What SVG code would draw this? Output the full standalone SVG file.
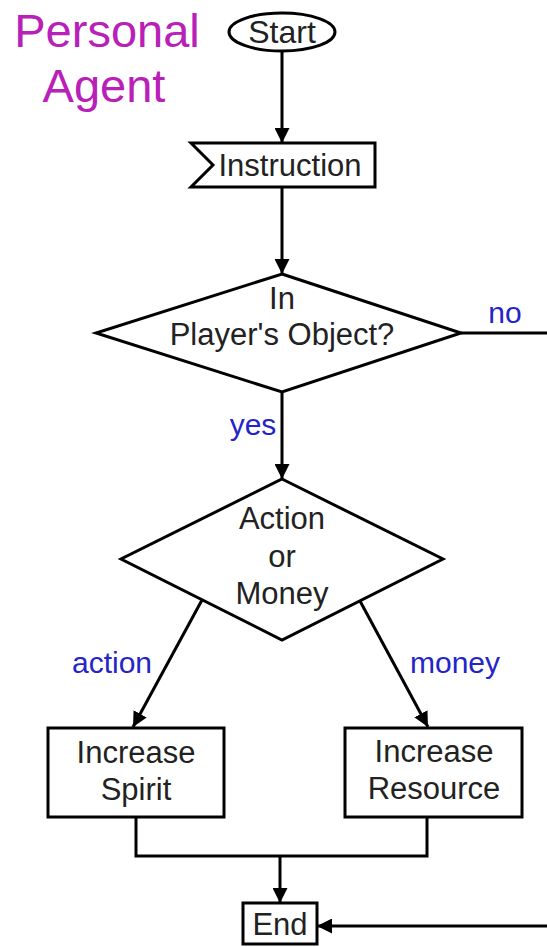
<svg xmlns="http://www.w3.org/2000/svg" width="547" height="947" viewBox="0 0 547 947">
  <style>
    .shape { fill: #ffffff; stroke: #000000; stroke-width: 3; }
    .wire { fill: none; stroke: #000000; stroke-width: 3; }
    .txt { font-family: "Liberation Sans", Arial, sans-serif; font-size: 31px; fill: #222222; text-anchor: middle; }
    .lbl { font-family: "Liberation Sans", Arial, sans-serif; font-size: 30px; fill: #2424c8; text-anchor: middle; }
    .title { font-family: "Liberation Sans", Arial, sans-serif; font-size: 47px; fill: #b820b8; text-anchor: middle; }
  </style>
  <defs>
    <marker id="arrow" markerUnits="userSpaceOnUse" markerWidth="15" markerHeight="15" refX="15" refY="7.5" orient="auto">
      <path d="M0,0 L15,7.5 L0,15 z" fill="#000000"/>
    </marker>
  </defs>
  <rect width="547" height="947" fill="#ffffff"/>

  <g id="title">
    <text class="title" x="107" y="47">Personal</text>
    <text class="title" x="104" y="102">Agent</text>
  </g>

  <g id="connectors">
    <line class="wire" x1="282" y1="51" x2="282" y2="143" marker-end="url(#arrow)"/>
    <line class="wire" x1="282" y1="187" x2="282" y2="274" marker-end="url(#arrow)"/>
    <line class="wire" x1="282" y1="392" x2="282" y2="479" marker-end="url(#arrow)"/>
    <line class="wire" x1="461" y1="333" x2="547" y2="333"/>
    <line class="wire" x1="202" y1="600" x2="133" y2="727" marker-end="url(#arrow)"/>
    <line class="wire" x1="360" y1="601" x2="428" y2="727" marker-end="url(#arrow)"/>
    <polyline class="wire" points="136,817 136,856 427,856 427,817"/>
    <line class="wire" x1="280" y1="856" x2="280" y2="903" marker-end="url(#arrow)"/>
    <line class="wire" x1="547" y1="926" x2="317" y2="926" marker-end="url(#arrow)"/>
    <text class="lbl" x="505" y="323">no</text>
    <text class="lbl" x="253" y="435">yes</text>
    <text class="lbl" x="112" y="673">action</text>
    <text class="lbl" x="455" y="673">money</text>
  </g>

  <g id="start">
    <ellipse class="shape" cx="282" cy="32" rx="53" ry="19"/>
    <text class="txt" x="282" y="43" style="font-size:32px">Start</text>
  </g>

  <g id="instruction">
    <polygon class="shape" points="191,143 375,143 375,187 191,187 213,165"/>
    <text class="txt" x="290" y="176">Instruction</text>
  </g>

  <g id="in-players-object">
    <polygon class="shape" points="282,274 461,333 282,392 96,333"/>
    <text class="txt" x="282" y="309">In</text>
    <text class="txt" x="282" y="345">Player's Object?</text>
  </g>

  <g id="action-or-money">
    <polygon class="shape" points="282,479 443,559 282,640 121,559"/>
    <text class="txt" x="282" y="529">Action</text>
    <text class="txt" x="282" y="567">or</text>
    <text class="txt" x="282" y="604">Money</text>
  </g>

  <g id="increase-spirit">
    <rect class="shape" x="48" y="728" width="176" height="89"/>
    <text class="txt" x="136" y="763">Increase</text>
    <text class="txt" x="136" y="800">Spirit</text>
  </g>

  <g id="increase-resource">
    <rect class="shape" x="345" y="728" width="177" height="89"/>
    <text class="txt" x="434" y="762">Increase</text>
    <text class="txt" x="434" y="799">Resource</text>
  </g>

  <g id="end">
    <rect class="shape" x="243" y="903" width="74" height="41"/>
    <text class="txt" x="280" y="935">End</text>
  </g>
</svg>
